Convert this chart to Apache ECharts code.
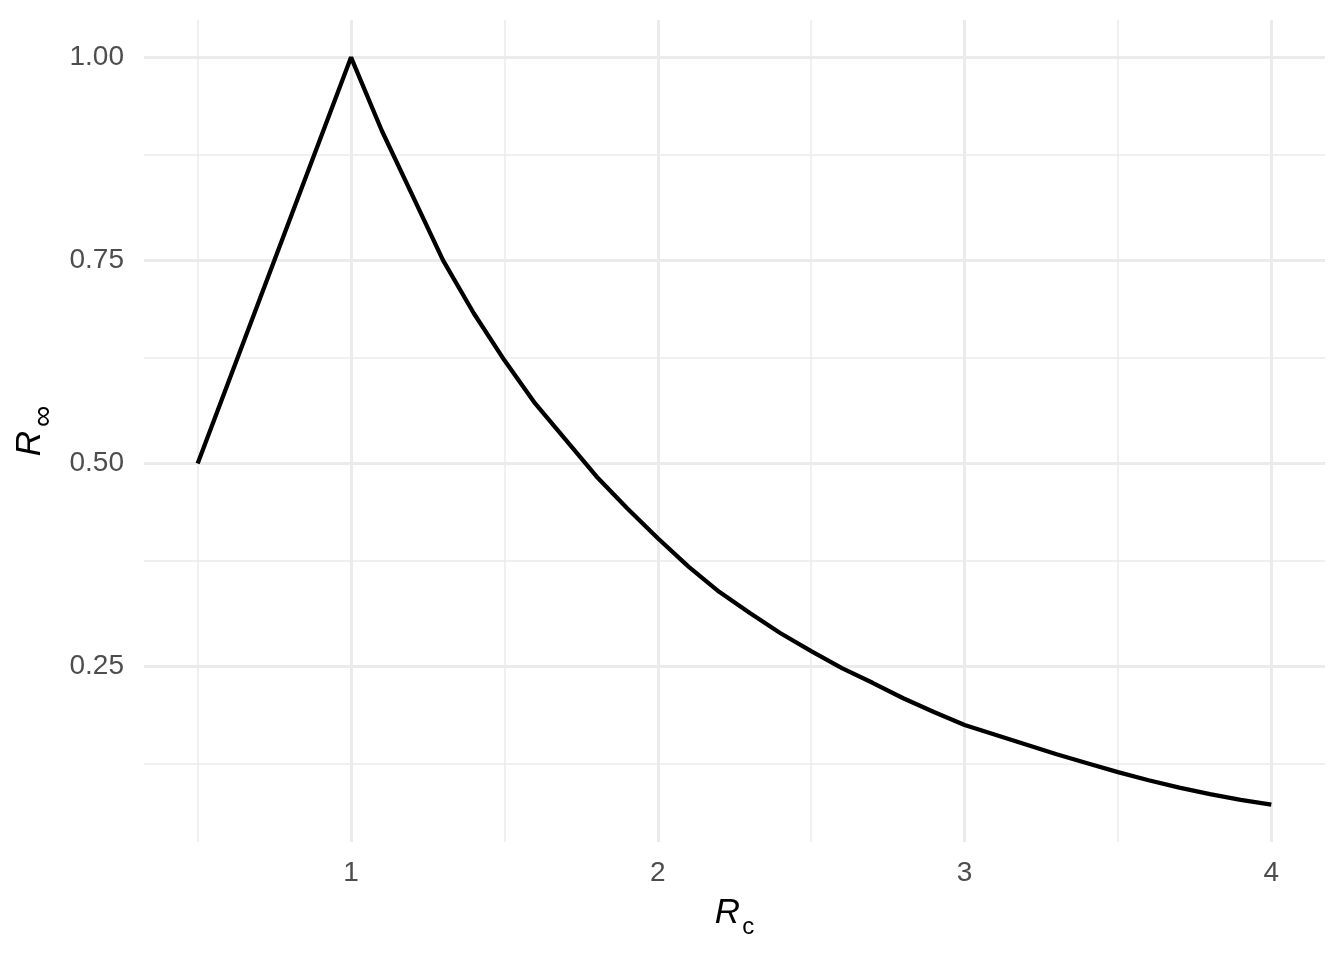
<!DOCTYPE html>
<html>
<head>
<meta charset="utf-8">
<script src="https://cdn.jsdelivr.net/npm/echarts@6/dist/echarts.min.js"></script>
<style>
  html, body { margin: 0; padding: 0; background: #fff; }
  #chart { width: 1344px; height: 960px; }
</style>
</head>
<body>
<div id="chart"></div>
<script>
// values
const rc = [0.5, 0.6, 0.7, 0.8, 0.9, 1.0, 1.1, 1.2, 1.3, 1.4, 1.5, 1.6, 1.7, 1.8, 1.9, 2.0,
  2.1, 2.2, 2.3, 2.4, 2.5, 2.6, 2.7, 2.8, 2.9, 3.0, 3.1, 3.2, 3.3, 3.4, 3.5, 3.6, 3.7, 3.8, 3.9, 4.0]
const rinf = [0.50, 0.60, 0.70, 0.80, 0.90, 1.00, 0.91, 0.83, 0.75, 0.685, 0.627, 0.574, 0.529, 0.484, 0.445, 0.408,
  0.373, 0.342, 0.316, 0.291, 0.269, 0.248, 0.230, 0.211, 0.194, 0.178, 0.166, 0.154, 0.142, 0.131, 0.120, 0.110, 0.101, 0.093, 0.086, 0.080]

const xTicks = [1, 2, 3, 4]
const xMinor = [0.5, 1.5, 2.5, 3.5]
const yTicks = [0.25, 0.5, 0.75, 1.0]
const yMinor = [0.125, 0.375, 0.625, 0.875]

const font = '"Liberation Sans", Arial, sans-serif'
const gridColor = '#EBEBEB'

const gridLines = [
  ...xMinor.map(v => ({ xAxis: v, lineStyle: { width: 1.5 } })),
  ...yMinor.map(v => ({ yAxis: v, lineStyle: { width: 1.5 } })),
  ...xTicks.map(v => ({ xAxis: v, lineStyle: { width: 3 } })),
  ...yTicks.map(v => ({ yAxis: v, lineStyle: { width: 3 } }))
]

const titleRich = {
  i: { fontStyle: 'italic', fontSize: 35, fontFamily: font, color: '#000' },
  s: { fontSize: 24, fontFamily: font, color: '#000', verticalAlign: 'bottom', padding: [28, 0, 0, 2] },
  inf: { fontSize: 30, fontFamily: font, color: '#000', verticalAlign: 'bottom', padding: [26, 0, 0, 4] }
}

const chart = echarts.init(document.getElementById('chart'))

const option = {
  animation: false,
  backgroundColor: '#fff',
  grid: { left: 144, right: 19, top: 20, bottom: 118 },
  xAxis: {
    type: 'value',
    min: 0.325,
    max: 4.175,
    axisLine: { show: false },
    axisTick: { show: false, customValues: xTicks },
    splitLine: { show: false },
    axisLabel: {
      customValues: xTicks,
      formatter: v => String(v),
      color: '#4D4D4D',
      fontSize: 28,
      fontFamily: font,
      margin: 17
    },
    name: '{i|R}{s|c}',
    nameLocation: 'middle',
    nameGap: 45,
    nameTextStyle: { rich: titleRich }
  },
  yAxis: {
    type: 'value',
    min: 0.034,
    max: 1.046,
    axisLine: { show: false },
    axisTick: { show: false, customValues: yTicks },
    splitLine: { show: false },
    axisLabel: {
      customValues: yTicks,
      formatter: v => v.toFixed(2),
      color: '#4D4D4D',
      fontSize: 28,
      fontFamily: font,
      margin: 20
    },
    name: '{i|R}{inf|∞}',
    nameLocation: 'middle',
    nameGap: 83,
    nameTextStyle: { rich: titleRich }
  },
  series: [
    {
      name: 'grid',
      type: 'line',
      data: [],
      z: 1,
      silent: true,
      markLine: {
        z: 1,
        silent: true,
        symbol: 'none',
        label: { show: false },
        lineStyle: { color: gridColor, type: 'solid' },
        emphasis: { disabled: true },
        data: gridLines
      }
    },
    {
      name: 'Rinf',
      type: 'line',
      z: 10,
      data: rc.map((x, i) => [x, rinf[i]]),
      showSymbol: false,
      lineStyle: { color: '#000', width: 4.3 },
      itemStyle: { color: '#000' }
    }
  ]
}

chart.setOption(option)
window.addEventListener('resize', () => chart.resize())
</script>
</body>
</html>
